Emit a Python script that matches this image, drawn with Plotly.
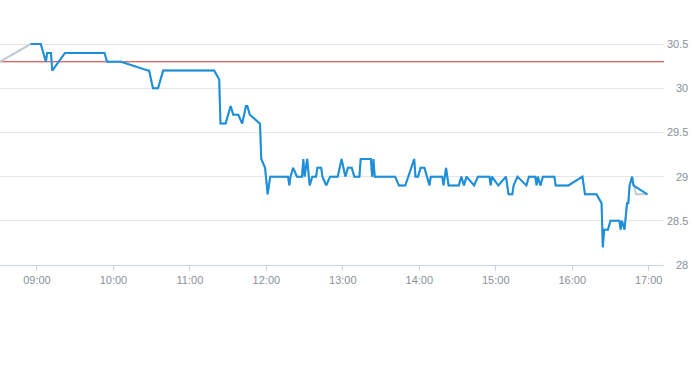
import plotly.graph_objects as go

DAY = "2024-01-02 "

# Price series (blue)
times = ["08:55", "09:03", "09:07", "09:08", "09:11", "09:12", "09:22", "09:53", "09:55", "10:06",
         "10:27", "10:28", "10:31", "10:35", "10:39", "11:19", "11:23", "11:24", "11:28", "11:32",
         "11:34", "11:38", "11:41", "11:44", "11:45", "11:47", "11:55", "11:56", "11:59", "12:01",
         "12:03", "12:17", "12:18", "12:19", "12:21", "12:24", "12:28", "12:29", "12:30", "12:32",
         "12:34", "12:36", "12:39", "12:40", "12:43", "12:44", "12:47", "12:50", "12:56", "12:59",
         "13:02", "13:04", "13:07", "13:09", "13:13", "13:14", "13:22", "13:23", "13:24", "13:25",
         "13:41", "13:44", "13:49", "13:56", "13:57", "13:59", "14:01", "14:04", "14:08", "14:09",
         "14:18", "14:19", "14:21", "14:23", "14:31", "14:33", "14:35", "14:37", "14:43", "14:46",
         "14:55", "14:56", "14:57", "15:02", "15:08", "15:10", "15:13", "15:14", "15:17", "15:24",
         "15:26", "15:31", "15:32", "15:33", "15:35", "15:37", "15:46", "15:47", "15:57", "16:08",
         "16:10", "16:19", "16:23", "16:24", "16:25", "16:28", "16:30", "16:37", "16:38", "16:39",
         "16:41", "16:43", "16:44", "16:45", "16:47", "16:48", "16:59"]
prices = [30.5, 30.5, 30.3, 30.4, 30.4, 30.2, 30.4, 30.4, 30.3, 30.3,
          30.2, 30.2, 30.0, 30.0, 30.2, 30.2, 30.1, 29.6, 29.6, 29.8,
          29.7, 29.7, 29.6, 29.8, 29.8, 29.7, 29.6, 29.2, 29.1, 28.8,
          29.0, 29.0, 28.9, 29.0, 29.1, 29.0, 29.0, 29.2, 29.0, 29.2,
          28.9, 29.0, 29.0, 29.1, 29.1, 29.0, 28.9, 29.0, 29.0, 29.2,
          29.0, 29.1, 29.1, 29.0, 29.0, 29.2, 29.2, 29.0, 29.2, 29.0,
          29.0, 28.9, 28.9, 29.2, 29.0, 29.0, 29.1, 29.1, 28.9, 29.0,
          29.0, 28.9, 29.1, 28.9, 28.9, 29.0, 28.9, 29.0, 28.9, 29.0,
          29.0, 28.9, 29.0, 28.9, 29.0, 28.8, 28.8, 28.9, 29.0, 28.9,
          29.0, 29.0, 28.9, 29.0, 28.9, 29.0, 29.0, 28.9, 28.9, 29.0,
          28.8, 28.8, 28.7, 28.2, 28.4, 28.4, 28.5, 28.5, 28.4, 28.5,
          28.4, 28.7, 28.7, 28.9, 29.0, 28.9, 28.8]

# Secondary (gray) series: differs only at the start and the end
gray_start_times = ["08:31"]
gray_start_values = [30.3]
gray_end_times = ["16:50", "16:59"]
gray_end_values = [28.8, 28.8]

prev_close = 30.3

y_ticks = [28, 28.5, 29, 29.5, 30, 30.5]
y_tick_labels = ["28", "28.5", "29", "29.5", "30", "30.5"]
x_ticks = ["09:00", "10:00", "11:00", "12:00", "13:00", "14:00", "15:00", "16:00", "17:00"]

x_range = ["08:31", "17:12"]
y_range = [28, 30.75]

peak = times.index("16:47")
gray_x = gray_start_times + times[:peak + 1] + gray_end_times
gray_y = gray_start_values + prices[:peak + 1] + gray_end_values

fig = go.Figure()
fig.add_trace(go.Scatter(x=[DAY + t for t in gray_x], y=gray_y, mode="lines",
                         line=dict(color="#c3cbd1", width=2), hoverinfo="skip", showlegend=False))
fig.add_trace(go.Scatter(x=[DAY + t for t in times], y=prices, mode="lines",
                         line=dict(color="#1a8fdc", width=2), showlegend=False))
fig.add_hline(y=prev_close, line=dict(color="#cc3333", width=1), layer="below")

W, H = 693, 365
ml, mr, mt, mb = 0, 29, 22, 100
plot_w = W - ml - mr

fig.update_layout(
    width=W, height=H,
    margin=dict(l=ml, r=mr, t=mt, b=mb, autoexpand=False),
    paper_bgcolor="white", plot_bgcolor="white",
    font=dict(family="Liberation Sans, Arial, sans-serif", size=11, color="#88909b"),
    xaxis=dict(
        type="date",
        range=[DAY + x_range[0], DAY + x_range[1]],
        tickvals=[DAY + t for t in x_ticks], ticktext=x_ticks,
        showgrid=False, zeroline=False,
        showline=True, linecolor="#ccd6eb", linewidth=1,
        ticks="outside", ticklen=5, tickcolor="#ccd6eb",
        tickfont=dict(size=11, color="#88909b"),
    ),
    yaxis=dict(
        side="right", range=y_range,
        tickvals=y_ticks[1:], showticklabels=False,
        showgrid=True, gridcolor="#e6e6e6", gridwidth=1,
        zeroline=False, showline=False, ticks="",
    ),
)

for v, lab in zip(y_ticks, y_tick_labels):
    fig.add_annotation(x=(690 - ml) / plot_w, xref="paper", y=v, yref="y",
                       text=lab, showarrow=False, xanchor="right", yanchor="middle",
                       font=dict(size=11, color="#88909b"))

fig.write_html("out.html", config={"displayModeBar": False},
               post_script="document.body.style.margin='0';document.body.style.overflow='hidden';")
